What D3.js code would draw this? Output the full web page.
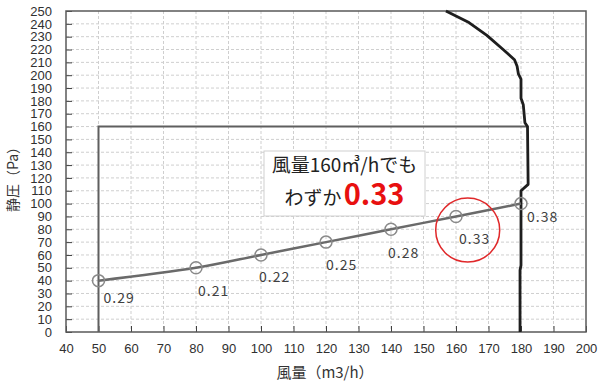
<!DOCTYPE html>
<html>
<head>
<meta charset="utf-8">
<script src="https://cdn.jsdelivr.net/npm/d3@7"></script>
<style>
  html, body { margin: 0; padding: 0; background: #fff; }
  svg { display: block; font-family: "Noto Sans CJK JP", "Noto Sans", sans-serif; }
  .axis path { display: none; }
  .axis line { stroke: #404040; stroke-width: 1; }
  .axis text { fill: #303030; font-size: 13px; }
</style>
</head>
<body>
<svg id="chart"></svg>
<script>
// system curve (風量 m3/h, 静圧 Pa) and the ratio printed next to each point
const flow     = [50, 80, 100, 120, 140, 160, 180];
const pressure = [40, 50, 60, 70, 80, 90, 100];
const ratio    = ["0.29", "0.21", "0.22", "0.25", "0.28", "0.33", "0.38"];

// fan P-Q curve
const fanFlow     = [156.9, 164, 169.5, 174.5, 178, 178.8, 179.2, 180, 180, 180.7, 181.2, 182, 182.2, 180, 180, 179.7, 179.7];
const fanPressure = [250, 241, 231, 220, 212, 207, 201, 197, 182, 177, 163, 160, 115, 110, 52, 48, 0];

// operating limit box
const limitFlow     = [50, 50, 182];
const limitPressure = [0, 160, 160];

const xTicks = d3.range(40, 201, 10);
const yTicks = d3.range(0, 251, 10);

const W = 600, H = 386;
const svg = d3.select("#chart").attr("width", W).attr("height", H);

const pL = 66, pR = 586, pT = 11, pB = 332;
const x = d3.scaleLinear().domain([40, 200]).range([pL, pR]);
const y = d3.scaleLinear().domain([0, 250]).range([pB, pT]);

// grid
const grid = svg.append("g").attr("stroke", "#cfcfcf").attr("stroke-dasharray", "3,2").attr("stroke-width", 1);
grid.selectAll(".gy").data(yTicks.slice(1, -1)).enter().append("line")
    .attr("x1", pL).attr("x2", pR)
    .attr("y1", d => y(d)).attr("y2", d => y(d));
grid.selectAll(".gx").data(xTicks.slice(1, -1)).enter().append("line")
    .attr("y1", pT).attr("y2", pB)
    .attr("x1", d => x(d)).attr("x2", d => x(d));

// axes
svg.append("g").attr("class", "axis")
    .attr("transform", `translate(${pL},0)`)
    .call(d3.axisLeft(y).tickValues(yTicks).tickSizeInner(-6).tickSizeOuter(0).tickPadding(14));
svg.append("g").attr("class", "axis")
    .attr("transform", `translate(0,${pB})`)
    .call(d3.axisBottom(x).tickValues(xTicks).tickSizeInner(-6).tickSizeOuter(0).tickPadding(12));

// plot frame
svg.append("rect")
    .attr("x", pL).attr("y", pT)
    .attr("width", pR - pL).attr("height", pB - pT)
    .attr("fill", "none").attr("stroke", "#595959").attr("stroke-width", 1.5);

// limit lines
svg.append("path")
    .datum(limitFlow.map((f, i) => [f, limitPressure[i]]))
    .attr("fill", "none").attr("stroke", "#5f5f5f").attr("stroke-width", 2)
    .attr("d", d3.line().x(d => x(d[0])).y(d => y(d[1])));

// fan curve
svg.append("path")
    .datum(fanFlow.map((f, i) => [f, fanPressure[i]]))
    .attr("fill", "none").attr("stroke", "#1e1e1e").attr("stroke-width", 2.8)
    .attr("stroke-linejoin", "round")
    .attr("d", d3.line().x(d => x(d[0])).y(d => y(d[1])));

// system curve
const pts = flow.map((f, i) => ({ f, p: pressure[i], r: ratio[i] }));
svg.append("path")
    .datum(pts)
    .attr("fill", "none").attr("stroke", "#6a6a6a").attr("stroke-width", 2.5)
    .attr("d", d3.line().curve(d3.curveCatmullRom.alpha(0.5)).x(d => x(d.f)).y(d => y(d.p)));

svg.selectAll(".mk").data(pts).enter().append("circle")
    .attr("cx", d => x(d.f)).attr("cy", d => y(d.p)).attr("r", 6)
    .attr("fill", "none").attr("stroke", "#8a8a8a").attr("stroke-width", 1.5);

// label offsets (px) as placed in the original
const labDx = [5, 2, -2, 0, -3, 3, 6];
const labDy = [22, 28, 27, 28, 29, 28, 18];
svg.selectAll(".lab").data(pts).enter().append("text")
    .attr("x", (d, i) => x(d.f) + labDx[i])
    .attr("y", (d, i) => y(d.p) + labDy[i])
    .attr("font-size", 14).attr("fill", "#404040").attr("letter-spacing", 1)
    .text(d => d.r);

// red highlight circle
svg.append("circle")
    .attr("cx", x(163.6)).attr("cy", y(79.4)).attr("r", 32)
    .attr("fill", "none").attr("stroke", "#e0282a").attr("stroke-width", 1.5);

// annotation box
const bx = 264, by = 151;
svg.append("rect")
    .attr("x", bx).attr("y", by).attr("width", 161).attr("height", 65)
    .attr("fill", "#fff").attr("stroke", "#d0d0d0").attr("stroke-width", 1);
svg.append("text")
    .attr("x", bx + 80.5).attr("y", by + 21).attr("text-anchor", "middle")
    .attr("font-size", 19).attr("fill", "#222")
    .text("風量160㎥/hでも");
const t2 = svg.append("text")
    .attr("x", bx + 80.5).attr("y", by + 54).attr("text-anchor", "middle");
t2.append("tspan").attr("font-size", 19).attr("fill", "#222").text("わずか");
t2.append("tspan").attr("dx", 2).attr("font-size", 29).attr("font-weight", "bold").attr("fill", "#e81010").text("0.33");

// axis titles
svg.append("text")
    .attr("x", 325).attr("y", 378).attr("text-anchor", "middle")
    .attr("font-size", 15).attr("fill", "#333")
    .text("風量（m3/h）");
svg.append("text")
    .attr("transform", "translate(18,176) rotate(-90)")
    .attr("text-anchor", "middle")
    .attr("font-size", 14).attr("fill", "#333")
    .text("静圧（Pa）");
</script>
</body>
</html>
